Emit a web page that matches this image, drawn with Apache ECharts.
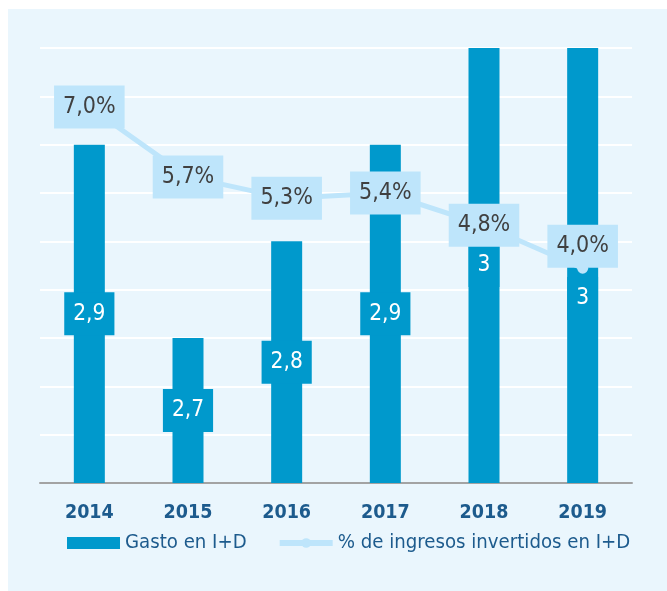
<!DOCTYPE html>
<html>
<head>
<meta charset="utf-8">
<script src="https://cdn.jsdelivr.net/npm/echarts@6/dist/echarts.min.js"></script>
<style>
  html, body { margin: 0; padding: 0; background: #ffffff; }
  #wrap { position: relative; width: 667px; height: 591px; }
  #panel { position: absolute; left: 8px; top: 9px; right: 0; bottom: 0; background: #eaf6fd; }
  #chart { position: absolute; left: 0; top: 0; width: 667px; height: 591px; }
</style>
</head>
<body>
<div id="wrap">
  <div id="panel"></div>
  <div id="chart"></div>
</div>
<script>
const years = ['2014', '2015', '2016', '2017', '2018', '2019'];
const gasto = [2.9, 2.7, 2.8, 2.9, 3.0, 3.0];
const pctIngresos = [7.0, 5.7, 5.3, 5.4, 4.8, 4.0];

const FONT = '"DejaVu Sans Condensed", "Liberation Sans Narrow", Roboto, sans-serif';
const BAR_COLOR = '#0099cc';
const LINE_COLOR = '#bee5fb';
const TEXT_BLUE = '#1d5b8d';

function comma(v, digits) {
    return (digits == null ? String(v) : v.toFixed(digits)).replace('.', ',');
}

const chart = echarts.init(document.getElementById('chart'));

const option = {
    animation: false,
    textStyle: { fontFamily: FONT },
    grid: { left: 40, right: 35, top: 48, bottom: 108 },
    legend: {
        bottom: 33,
        left: 62,
        itemWidth: 53,
        itemHeight: 12,
        itemGap: 30,
        textStyle: { fontFamily: FONT, fontSize: 20.2, color: TEXT_BLUE },
        data: [
            { name: 'Gasto en I+D', icon: 'rect' },
            {
                name: '% de ingresos invertidos en I+D',
                lineStyle: { width: 6, color: LINE_COLOR },
                itemStyle: { color: LINE_COLOR }
            }
        ]
    },
    xAxis: {
        type: 'category',
        data: years,
        axisLine: { lineStyle: { color: '#a3a3a3', width: 2 } },
        axisTick: { show: false },
        axisLabel: { fontFamily: FONT, fontSize: 19.5, fontWeight: 'bold', color: TEXT_BLUE, margin: 20 }
    },
    yAxis: [
        {
            type: 'value',
            min: 2.55,
            max: 3.0,
            interval: 0.05,
            axisLabel: { show: false },
            axisLine: { show: false },
            axisTick: { show: false },
            splitLine: { lineStyle: { color: '#ffffff', width: 2 } }
        },
        {
            type: 'value',
            min: 0,
            max: 8.1,
            show: false,
            splitLine: { show: false }
        }
    ],
    series: [
        {
            name: 'Gasto en I+D',
            type: 'bar',
            barWidth: 31,
            itemStyle: { color: BAR_COLOR },
            label: {
                show: true,
                position: 'inside',
                fontFamily: FONT,
                fontSize: 22.5,
                color: '#ffffff',
                backgroundColor: BAR_COLOR,
                padding: [10, 9],
                formatter: (p) => comma(p.value)
            },
            data: gasto.map((v, i) => (
                i === gasto.length - 1 ? { value: v, label: { offset: [0, 33] } } : v
            ))
        },
        {
            name: '% de ingresos invertidos en I+D',
            type: 'line',
            yAxisIndex: 1,
            symbol: 'circle',
            symbolSize: 11,
            lineStyle: { color: LINE_COLOR, width: 5 },
            itemStyle: { color: LINE_COLOR },
            label: {
                show: true,
                position: 'inside',
                fontFamily: FONT,
                fontSize: 23,
                color: '#404040',
                backgroundColor: LINE_COLOR,
                padding: [10, 9],
                formatter: (p) => comma(p.value, 1) + '%'
            },
            data: pctIngresos.map((v, i) => (
                i === pctIngresos.length - 1 ? { value: v, label: { offset: [0, -22] } } : v
            ))
        }
    ]
};

chart.setOption(option);
</script>
</body>
</html>
